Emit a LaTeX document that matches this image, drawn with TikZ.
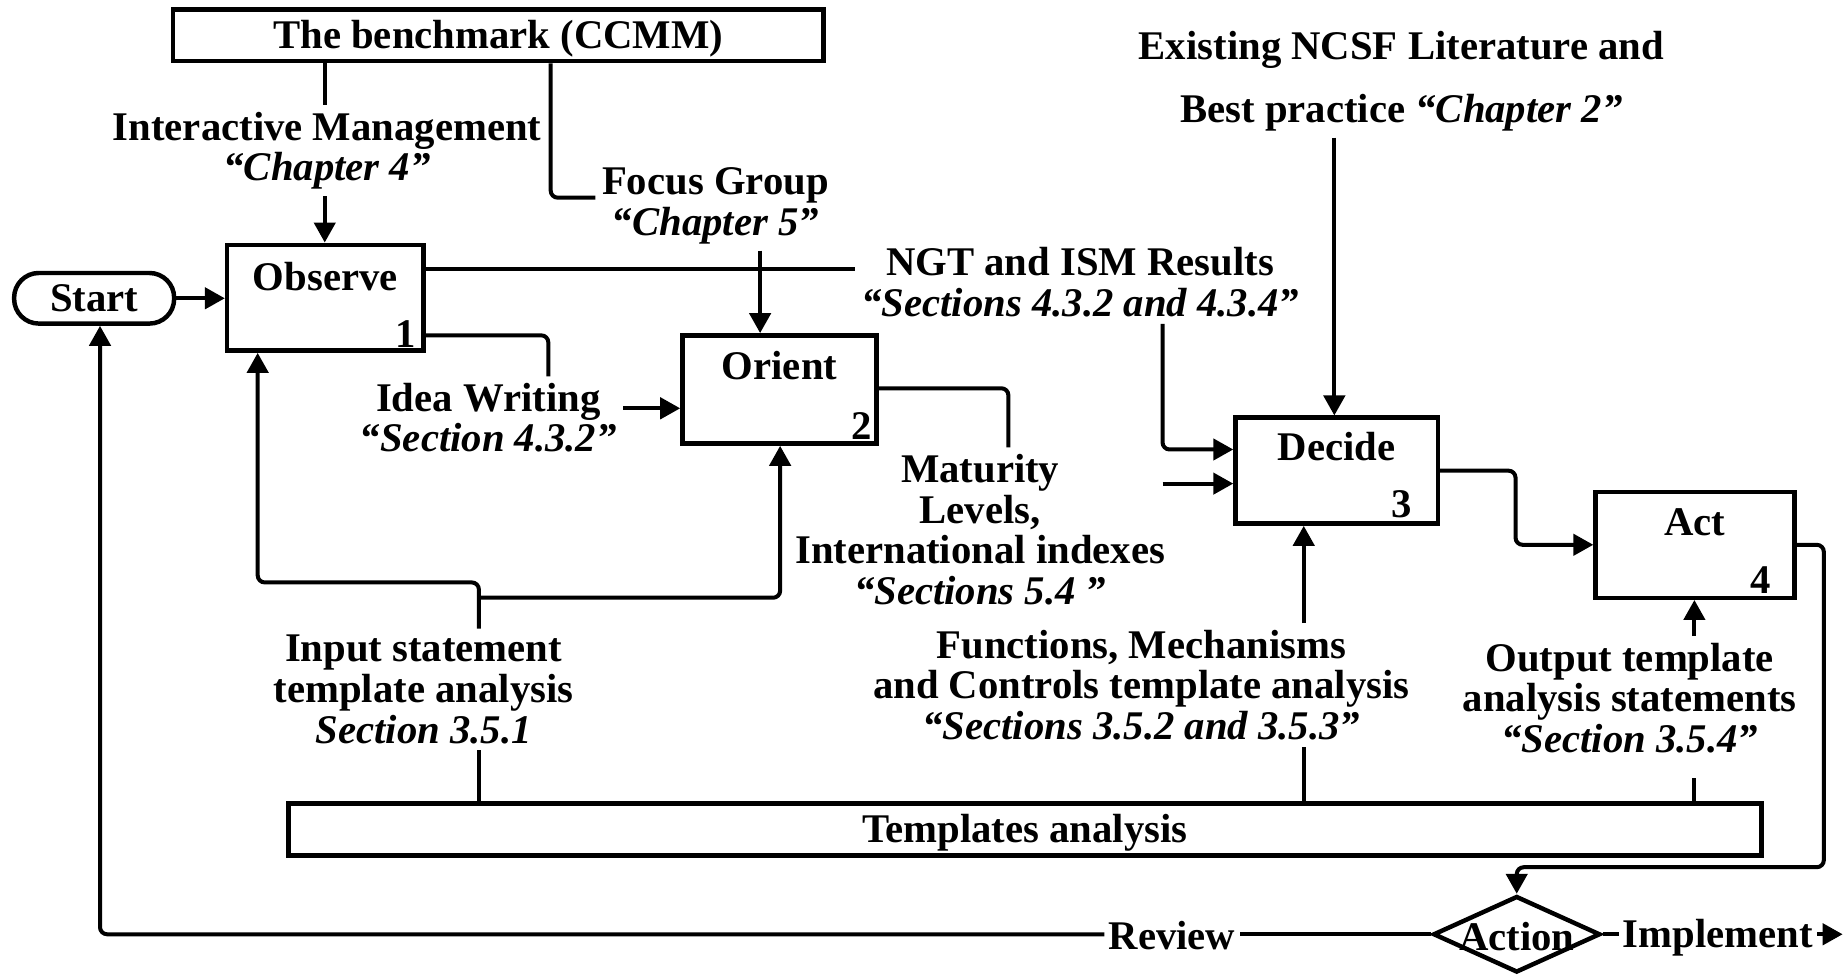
\documentclass[tikz,border=0pt]{standalone}
\usepackage{fontspec}
\setmainfont{Liberation Serif}
\usetikzlibrary{arrows.meta,shapes.geometric,calc}

\begin{document}
\begin{tikzpicture}[x=0.5pt,y=-0.5pt,
  font=\fontsize{17.3}{17.25}\selectfont\bfseries,
  line width=1.7pt,
  box/.style={draw, rectangle, inner sep=0pt, line width=1.9pt},
  lbl/.style={align=center, inner sep=2pt},
  ttl/.style={inner sep=0pt},
  num/.style={inner sep=0pt},
  arr/.style={-{Triangle[length=8.5pt,width=9pt]}},
  elbow/.style={rounded corners=3pt}
]
\useasboundingbox (0,0) rectangle (1568,829);

% process boxes
\node[box, minimum width=276.5pt, minimum height=22pt, text depth=1pt] (bench) at (423.5,30) {The benchmark (CCMM)};
\node[box, minimum width=83.5pt, minimum height=45pt] (obs) at (276.5,253) {};
\node[box, minimum width=82.5pt, minimum height=46pt] (ori) at (662.5,331) {};
\node[box, minimum width=86pt, minimum height=45pt] (dec) at (1136,400) {};
\node[box, minimum width=84.5pt, minimum height=45pt] (act) at (1440.5,463) {};
\node[box, minimum width=626pt, minimum height=22pt, text depth=1pt] (tmpl) at (871,705) {Templates analysis};
\node[draw, line width=1.9pt, rounded corners=10.5pt, minimum width=68pt, minimum height=21.5pt, inner sep=0pt] (start) at (80,253.5) {Start};
\node[draw, line width=1.9pt, diamond, minimum width=71pt, minimum height=32.5pt, inner sep=0pt] (dia) at (1289,794) {};
\node[ttl] (diaT) at (1289,796) {Action};

% box titles and numbers
\node[ttl] (obsT) at ($(obs.north)+(0,29)$) {Observe};
\node[ttl] (oriT) at ($(ori.north)+(0,28)$) {Orient};
\node[ttl] (decT) at ($(dec.north)+(0,26)$) {Decide};
\node[ttl] (actT) at ($(act.north)+(0,28)$) {Act};
\node[num] (obsN) at ($(obs.south east)+(-17,-16)$) {1};
\node[num] (oriN) at ($(ori.south east)+(-15,-17)$) {2};
\node[num] (decN) at ($(dec.south east)+(-33,-18)$) {3};
\node[num] (actN) at ($(act.south east)+(-31,-17)$) {4};

% connector labels
\node[lbl] (im) at (278,128) {Interactive Management\\\textit{“Chapter 4”}};
\node[lbl] (fg) at (608,175) {Focus Group\\\textit{“Chapter 5”}};
\node[lbl] (ngt) at (918,240) {NGT and ISM Results\\\textit{“Sections 4.3.2 and 4.3.4”}};
\node[lbl] (idea) at (415,355) {Idea Writing\\\textit{“Section 4.3.2”}};
\node[lbl] (mat) at (833,450) {Maturity\\Levels,\\International indexes\\\textit{“Sections 5.4 ”}};
\node[lbl] (lit) at (1191,69) {Existing NCSF Literature and\\[9.25pt]Best practice \textit{“Chapter 2”}};
\node[lbl] (inp) at (360,586) {Input statement\\template analysis\\\textit{Section 3.5.1}};
\node[lbl] (func) at (970,582) {Functions, Mechanisms\\and Controls template analysis\\\textit{“Sections 3.5.2 and 3.5.3”}};
\node[lbl] (out) at (1385,593) {Output template\\analysis statements\\\textit{“Section 3.5.4”}};
\node[ttl, inner sep=1pt] (rev) at (996,795) {Review};
\node[ttl, inner sep=1pt] (imp) at (1460,797) {Implement};
\coordinate (impEnd) at (1566,794);
\coordinate (decIn) at (988,411);

% Start to Observe
\draw[arr] (start.east) -- (obs.west |- start.east);

% benchmark to Observe through Interactive Management
\draw (276,0 |- bench.south) -- (276,0 |- im.north);
\draw[arr] (276,0 |- im.south) -- (276,0 |- obs.north);

% benchmark to Orient through Focus Group
\draw[elbow] (468,0 |- bench.south) -- (468,168) -- (fg.west |- 0,168);
\draw[arr] (646,0 |- fg.south) -- (646,0 |- ori.north);

% Observe to NGT and ISM results, on to Decide
\draw (obs.east |- 0,229) -- (ngt.west |- 0,229);
\draw[arr, elbow] (988,0 |- ngt.south) -- (988,382) -- (dec.west |- 0,382);
\draw[arr] (decIn) -- (dec.west |- decIn);

% Observe to Orient through Idea Writing
\draw[elbow] (obs.east |- 0,285) -- (466,285) -- (466,0 |- idea.north);
\draw[arr] (idea.east |- 0,347) -- (ori.west |- 0,347);

% Orient to maturity levels
\draw[elbow] (ori.east |- 0,330) -- (857,330) -- (857,0 |- mat.north);

% literature into Decide
\draw[arr] (1134,0 |- lit.south) -- (1134,0 |- dec.north);

% Decide to Act
\draw[arr, elbow] (dec.east) -- (1288,400) -- (1288,463) -- (act.west);

% Act to the Action decision
\draw[arr, elbow] (act.east) -- (1550,463) -- (1550,737) -- (1289,737) -- (dia.north);

% review loop back to Start
\draw (dia.west) -- (rev.east |- dia.west);
\draw[arr, elbow] (rev.west |- dia.west) -- (85,0 |- dia.west) -- (85,0 |- start.south);

% implement
\draw (dia.east) -- (imp.west |- dia.east);
\draw[arr] (imp.east |- impEnd) -- (impEnd);

% templates analysis feeding the boxes
\draw (407,0 |- tmpl.north) -- (407,0 |- inp.south);
\draw[arr, elbow] (407,0 |- inp.north) -- (407,495) -- (219,495) -- (219,0 |- obs.south);
\draw[arr, elbow] (407,508) -- (663,508) -- (663,0 |- ori.south);
\draw (1108,0 |- tmpl.north) -- (1108,0 |- func.south);
\draw[arr] (1108,0 |- func.north) -- (1108,0 |- dec.south);
\draw[shorten >=8pt] (1440,0 |- tmpl.north) -- (1440,0 |- out.south);
\draw[arr] (1440,0 |- out.north) -- (1440,0 |- act.south);
\end{tikzpicture}
\end{document}
